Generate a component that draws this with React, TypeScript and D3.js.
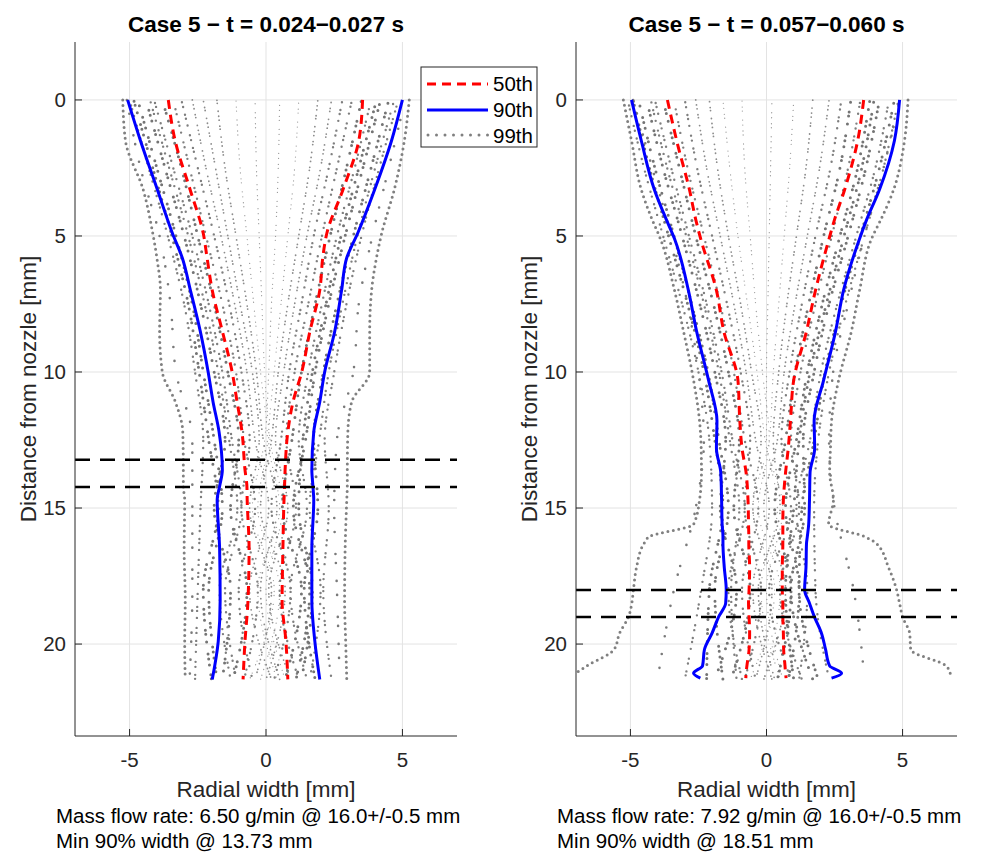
import React from "react";
import * as d3 from "d3";

const W = 989;
const H = 853;

const xTicks = [-5, 0, 5];
const yTicks = [0, 5, 10, 15, 20];
const xDomain: [number, number] = [-7, 7];
const yDomain: [number, number] = [-2.13, 23.38];

const titles = ["Case 5 \u2212 t = 0.024\u22120.027 s", "Case 5 \u2212 t = 0.057\u22120.060 s"];
const notes1 = ["Mass flow rate: 6.50 g/min @ 16.0+/-0.5 mm", "Mass flow rate: 7.92 g/min @ 16.0+/-0.5 mm"];
const notes2 = ["Min 90% width @ 13.73 mm", "Min 90% width @ 18.51 mm"];
const legendLabels = ["50th", "90th", "99th"];

// minimum-width band (center +/- 0.5 mm)
const bandLeft = [13.23, 14.23];
const bandRight = [18.01, 19.01];

// percentile envelopes, left panel
const depthL = [0, 1.5, 3.3, 4.9, 5.8, 7, 8.5, 10, 11.1, 12.2, 13.6, 14.2, 14.7, 16.5, 18.4, 19.9, 21.3];
const p50LeftA = [-3.58, -3.33, -2.78, -2.3, -2.16, -1.97, -1.6, -1.24, -1.06, -0.88, -0.77, -0.7, -0.69, -0.62, -0.66, -0.77, -0.84];
const p50LeftB = [3.54, 3.4, 2.82, 2.23, 2.08, 1.97, 1.61, 1.31, 0.99, 0.8, 0.7, 0.68, 0.66, 0.62, 0.59, 0.73, 0.8];
const p90LeftA = [-5.07, -4.6, -3.98, -3.43, -3.07, -2.77, -2.41, -2.12, -1.94, -1.72, -1.6, -1.7, -1.79, -1.7, -1.68, -1.75, -1.97];
const p90LeftB = [5.0, 4.6, 3.98, 3.36, 2.96, 2.77, 2.52, 2.15, 1.97, 1.75, 1.68, 1.72, 1.75, 1.68, 1.68, 1.79, 1.97];
const p99LeftA = [-5.25, -5.15, -4.5, -4.15, -4.0, -3.87, -3.9, -3.8, -3.32, -3.05, -3.03, -3.03, -2.98, -3.0, -2.96, -2.98, -2.96];
const p99LeftB = [5.25, 5.07, 4.7, 4.24, 4.05, 3.87, 3.8, 3.8, 3.14, 3.0, 2.98, 2.98, 2.96, 2.9, 2.88, 2.92, 2.96];

// percentile envelopes, right panel
const depthR = [0, 1.5, 3.3, 4.4, 5.1, 7, 8.5, 10.3, 11.8, 12.8, 13.7, 14.7, 15.6, 16.05, 16.3, 17.2, 18, 18.5, 19, 19.6, 20.2, 20.8, 21.07, 21.25];
const p50RightA = [-3.64, -3.3, -2.83, -2.6, -2.42, -1.84, -1.57, -1.05, -0.98, -0.9, -0.75, -0.68, -0.66, -0.65, -0.65, -0.62, -0.64, -0.66, -0.64, -0.62, -0.64, -0.72, -0.75, -0.76];
const p50RightB = [3.57, 3.35, 2.87, 2.5, 2.3, 1.8, 1.47, 1.0, 0.88, 0.8, 0.7, 0.62, 0.6, 0.6, 0.6, 0.58, 0.58, 0.6, 0.6, 0.62, 0.63, 0.68, 0.7, 0.72];
const p90RightA = [-4.96, -4.6, -4.12, -3.68, -3.38, -2.87, -2.57, -2.13, -1.82, -1.84, -1.68, -1.65, -1.63, -1.6, -1.6, -1.55, -1.48, -1.5, -1.76, -2.0, -2.28, -2.35, -2.68, -2.43];
const p90RightB = [4.89, 4.7, 4.15, 3.68, 3.42, 2.83, 2.54, 2.1, 1.75, 1.77, 1.6, 1.58, 1.55, 1.5, 1.47, 1.45, 1.4, 1.58, 1.76, 2.02, 2.17, 2.32, 2.76, 2.39];
const p99RightA = [-5.26, -4.96, -4.6, -4.2, -3.9, -3.38, -3.05, -2.68, -2.46, -2.4, -2.39, -2.46, -2.68, -4.3, -4.5, -4.78, -4.89, -4.95, -5.07, -5.4, -5.6, -6.6, -7.0, -7.2];
const p99RightB = [5.2, 5.07, 4.67, 4.2, 3.86, 3.42, 3.12, 2.65, 2.39, 2.35, 2.32, 2.46, 2.28, 3.6, 4.04, 4.49, 4.78, 4.89, 5.0, 5.26, 5.3, 6.6, 6.75, 6.8];

// particle streaks: x position at each streak depth
const streakDepth = [0, 2.5, 5, 7.5, 10, 12.5, 15, 18, 21.3];
const streaksLeft = [
  [-5.1, -4.6, -3.9, -3.5, -3.3, -2.7, -2.7, -2.7, -2.8],
  [-5.0, -4.3, -3.6, -3.0, -2.6, -2.3, -2.4, -2.5, -2.6],
  [-4.85, -4.15, -3.45, -2.85, -2.45, -2.1, -1.75, -2.3, -2.0],
  [-4.7, -4.0, -3.3, -2.7, -2.3, -1.9, -1.6, -2.1, -1.8],
  [-4.4, -3.7, -3.0, -2.4, -1.9, -1.5, -1.9, -1.3, -1.6],
  [-4.25, -3.55, -2.85, -2.25, -1.75, -1.35, -1.05, -1.7, -1.3],
  [-4.1, -3.4, -2.7, -2.1, -1.6, -1.25, -0.9, -1.5, -1.1],
  [-3.8, -3.1, -2.5, -1.9, -1.4, -1.0, -1.3, -0.7, -1.2],
  [-3.4, -2.8, -2.2, -1.6, -1.1, -0.8, -0.4, -1.0, -0.5],
  [-3.1, -2.5, -1.9, -1.35, -0.9, -0.6, -0.9, -0.3, -0.8],
  [-2.7, -2.2, -1.65, -1.15, -0.7, -0.4, 0.1, -0.6, 0.2],
  [-2.3, -1.85, -1.4, -0.95, -0.5, -0.25, -0.6, 0.2, -0.4],
  [-1.8, -1.5, -1.1, -0.7, -0.35, -0.1, 0.4, -0.2, 0.5],
  [-1.1, -0.95, -0.7, -0.45, -0.2, 0.05, -0.3, 0.5, -0.2],
  [-0.4, -0.35, -0.25, -0.15, -0.05, 0.15, 0.6, 0.0, 0.7],
  [0.5, 0.45, 0.35, 0.2, 0.1, -0.05, -0.5, 0.3, -0.6],
  [1.2, 1.05, 0.8, 0.55, 0.3, 0.1, 0.5, -0.3, 0.4],
  [1.9, 1.6, 1.2, 0.8, 0.45, 0.2, -0.2, 0.7, 0.0],
  [2.4, 2.0, 1.5, 1.05, 0.65, 0.35, 0.8, 0.1, 0.9],
  [2.8, 2.3, 1.75, 1.3, 0.85, 0.55, 0.2, 0.9, 0.3],
  [3.15, 2.6, 2.05, 1.55, 1.05, 0.75, 1.1, 0.5, 1.2],
  [3.5, 2.95, 2.35, 1.8, 1.3, 0.95, 0.6, 1.3, 0.7],
  [3.85, 3.25, 2.6, 2.05, 1.55, 1.2, 1.5, 0.9, 1.5],
  [4.05, 3.4, 2.75, 2.2, 1.7, 1.35, 1.2, 1.7, 1.3],
  [4.2, 3.55, 2.9, 2.3, 1.8, 1.45, 1.0, 1.6, 1.1],
  [4.5, 3.85, 3.2, 2.6, 2.1, 1.75, 1.9, 1.4, 1.8],
  [4.7, 4.0, 3.35, 2.8, 2.3, 1.95, 1.6, 2.0, 1.6],
  [4.85, 4.15, 3.5, 2.95, 2.5, 2.15, 2.3, 2.1, 2.4],
  [5.1, 4.5, 3.9, 3.4, 3.2, 2.6, 2.5, 2.6, 2.7],
];
const streakKindsLeft = ["sparse", "med", "big", "big", "big", "med", "med", "big", "med", "med", "small", "small", "small", "tiny", "tiny",
  "tiny", "tiny", "small", "small", "med", "med", "big", "med", "big", "big", "big", "med", "med", "sparse"];

const streaksRight = [
  [-4.9, -4.2, -3.5, -2.9, -2.5, -2.3, -2.6, -3.4, -4.0],
  [-5.1, -4.5, -3.8, -3.1, -2.5, -2.1, -2.0, -2.4, -3.0],
  [-4.9, -4.3, -3.6, -2.9, -2.3, -1.9, -1.6, -2.1, -2.2],
  [-4.7, -4.1, -3.4, -2.75, -2.15, -1.75, -1.4, -1.9, -1.6],
  [-4.4, -3.8, -3.1, -2.45, -1.9, -1.5, -1.7, -1.1, -1.9],
  [-4.25, -3.65, -2.95, -2.3, -1.75, -1.35, -1.0, -1.3, -1.1],
  [-4.1, -3.5, -2.85, -2.2, -1.65, -1.25, -0.8, -1.4, -0.9],
  [-3.8, -3.2, -2.6, -1.95, -1.4, -1.0, -1.2, -0.6, -1.3],
  [-3.4, -2.9, -2.3, -1.7, -1.2, -0.8, -0.3, -0.9, -0.4],
  [-3.0, -2.55, -2.0, -1.45, -0.95, -0.6, -0.8, -0.2, -0.8],
  [-2.6, -2.2, -1.7, -1.2, -0.75, -0.4, 0.1, -0.5, 0.2],
  [-2.1, -1.8, -1.4, -0.95, -0.55, -0.2, -0.5, 0.2, -0.4],
  [-1.6, -1.35, -1.05, -0.7, -0.35, -0.05, 0.4, -0.2, 0.5],
  [-0.9, -0.8, -0.6, -0.4, -0.15, 0.1, -0.3, 0.5, -0.1],
  [0.2, 0.15, 0.1, 0.05, 0.0, 0.0, 0.6, 0.0, 0.6],
  [1.0, 0.85, 0.65, 0.45, 0.25, 0.1, -0.5, 0.3, -0.6],
  [1.7, 1.45, 1.1, 0.75, 0.45, 0.25, 0.5, -0.3, 0.3],
  [2.3, 1.95, 1.5, 1.05, 0.65, 0.4, -0.1, 0.7, -0.1],
  [2.75, 2.35, 1.8, 1.3, 0.85, 0.55, 0.9, 0.1, 0.9],
  [3.1, 2.7, 2.1, 1.55, 1.05, 0.7, 0.3, 0.9, 0.4],
  [3.45, 3.0, 2.4, 1.8, 1.25, 0.9, 1.2, 0.5, 1.3],
  [3.8, 3.35, 2.7, 2.05, 1.5, 1.1, 0.7, 1.2, 0.8],
  [3.95, 3.5, 2.85, 2.2, 1.6, 1.2, 1.0, 0.7, 1.0],
  [4.15, 3.65, 3.0, 2.3, 1.75, 1.35, 1.4, 0.9, 1.7],
  [4.5, 4.0, 3.3, 2.6, 2.0, 1.6, 1.1, 1.5, 1.2],
  [4.7, 4.15, 3.45, 2.75, 2.15, 1.75, 1.3, 1.2, 1.9],
  [4.85, 4.3, 3.6, 2.9, 2.3, 1.9, 1.75, 1.8, 2.3],
  [4.9, 4.3, 3.6, 3.0, 2.45, 2.3, 2.5, 3.2, 3.6],
];
const streakKindsRight = ["sparse", "med", "big", "big", "big", "med", "med", "big", "med", "med", "small", "small", "tiny", "tiny",
  "tiny", "tiny", "small", "small", "med", "big", "med", "big", "big", "big", "med", "big", "med", "sparse"];

// irregular dot spacing so the streaks read as scattered particles
const dotStyle: Record<string, { w: number; dash: string; color: string }> = {
  big: { w: 3, dash: "0 6 0 10 0 4 0 8 0 12 0 5", color: "#747474" },
  med: { w: 2.4, dash: "0 5 0 8 0 4 0 7 0 10", color: "#7f7f7f" },
  small: { w: 1.8, dash: "0 4 0 6 0 3 0 8 0 5", color: "#8c8c8c" },
  tiny: { w: 1.3, dash: "0 6 0 4 0 9 0 5", color: "#9c9c9c" },
  sparse: { w: 2.6, dash: "0 14 0 22 0 9 0 18", color: "#7a7a7a" },
};

const font = "'Liberation Sans', Arial, Helvetica, sans-serif";
const axisColor = "#262626";

type PanelProps = {
  idx: number;
  x0: number;
  x1: number;
  depth: number[];
  p50: number[][];
  p90: number[][];
  p99: number[][];
  streaks: number[][];
  kinds: string[];
  band: number[];
  legend: boolean;
};

const y0 = 42;
const y1 = 736;

function Panel(props: PanelProps) {
  const { idx, x0, x1, depth, p50, p90, p99, streaks, kinds, band, legend } = props;
  const x = d3.scaleLinear().domain(xDomain).range([x0, x1]);
  const y = d3.scaleLinear().domain(yDomain).range([y0, y1]);
  const cx = (x0 + x1) / 2;
  const clipId = `clip-${idx}`;

  const profile = d3
    .line<number>()
    .x((v) => x(v))
    .y((_, i) => y(depth[i]))
    .curve(d3.curveMonotoneY);
  const streakLine = d3
    .line<number>()
    .x((v) => x(v))
    .y((_, i) => y(streakDepth[i]))
    .curve(d3.curveMonotoneY);

  return (
    <g>
      <defs>
        <clipPath id={clipId}>
          <rect x={x0} y={y0} width={x1 - x0} height={y1 - y0} />
        </clipPath>
      </defs>
      {xTicks.map((t) => (
        <line key={"gx" + t} x1={x(t)} x2={x(t)} y1={y0} y2={y1} stroke="#e3e3e3" strokeWidth={1} />
      ))}
      {yTicks.map((t) => (
        <line key={"gy" + t} x1={x0} x2={x1} y1={y(t)} y2={y(t)} stroke="#e3e3e3" strokeWidth={1} />
      ))}
      <g clipPath={`url(#${clipId})`}>
        {streaks.map((s, i) => {
          const st = dotStyle[kinds[i]];
          return (
            <path
              key={"s" + i}
              d={streakLine(s) || ""}
              fill="none"
              stroke={st.color}
              strokeWidth={st.w}
              strokeLinecap="round"
              strokeDasharray={st.dash}
              strokeDashoffset={i * 7.3}
            />
          );
        })}
        {p99.map((s, i) => (
          <path key={"p99" + i} d={profile(s) || ""} fill="none" stroke="#808080" strokeWidth={3}
            strokeLinecap="round" strokeDasharray="0 5.5" />
        ))}
        {p90.map((s, i) => (
          <path key={"p90" + i} d={profile(s) || ""} fill="none" stroke="#0000ff" strokeWidth={3} />
        ))}
        {p50.map((s, i) => (
          <path key={"p50" + i} d={profile(s) || ""} fill="none" stroke="#ff0000" strokeWidth={3}
            strokeDasharray="9 6" />
        ))}
        {band.map((b) => (
          <line key={"b" + b} x1={x0} x2={x1} y1={y(b)} y2={y(b)} stroke="#000" strokeWidth={2.5}
            strokeDasharray="15 10" />
        ))}
      </g>
      {/* axes */}
      <line x1={x0} x2={x0} y1={y0} y2={y1} stroke={axisColor} strokeWidth={1} />
      <line x1={x0} x2={x1} y1={y1} y2={y1} stroke={axisColor} strokeWidth={1} />
      {yTicks.map((t) => (
        <g key={"ty" + t}>
          <line x1={x0} x2={x0 + 7} y1={y(t)} y2={y(t)} stroke={axisColor} />
          <text x={x0 - 9} y={y(t) + 7} textAnchor="end" fontSize={20.5} fontFamily={font} fill={axisColor}>
            {t}
          </text>
        </g>
      ))}
      {xTicks.map((t) => (
        <g key={"tx" + t}>
          <line x1={x(t)} x2={x(t)} y1={y1} y2={y1 - 7} stroke={axisColor} />
          <text x={x(t)} y={y1 + 31} textAnchor="middle" fontSize={20.5} fontFamily={font} fill={axisColor}>
            {t === -5 ? "-5" : t}
          </text>
        </g>
      ))}
      <text x={cx} y={32} textAnchor="middle" fontSize={22.5} fontWeight="bold" fontFamily={font} fill="#000">
        {titles[idx]}
      </text>
      <text x={cx} y={797} textAnchor="middle" fontSize={22.5} fontFamily={font} fill={axisColor}>
        Radial width [mm]
      </text>
      <text
        transform={`translate(${x0 - 39},${(y0 + y1) / 2}) rotate(-90)`}
        textAnchor="middle"
        fontSize={22.5}
        fontFamily={font}
        fill={axisColor}
      >
        Distance from nozzle [mm]
      </text>
      <text x={x0 - 19} y={823} fontSize={20.5} fontFamily={font} fill="#000">
        {notes1[idx]}
      </text>
      <text x={x0 - 19} y={848} fontSize={20.5} fontFamily={font} fill="#000">
        {notes2[idx]}
      </text>
      {legend && (
        <g>
          <rect x={421} y={67} width={116} height={80} fill="#fff" stroke={axisColor} strokeWidth={1} />
          <line x1={427} x2={488} y1={84} y2={84} stroke="#ff0000" strokeWidth={3} strokeDasharray="9 6" />
          <line x1={427} x2={488} y1={110} y2={110} stroke="#0000ff" strokeWidth={3} />
          <line x1={428} x2={488} y1={135} y2={135} stroke="#808080" strokeWidth={3} strokeLinecap="round"
            strokeDasharray="0 8.5" />
          {legendLabels.map((l, i) => (
            <text key={l} x={493} y={91 + i * 26} fontSize={20.5} fontFamily={font} fill="#000">
              {l}
            </text>
          ))}
        </g>
      )}
    </g>
  );
}

export default function App() {
  return (
    <svg width={W} height={H} style={{ position: "absolute", left: 0, top: 0, background: "#fff" }}>
      <rect width={W} height={H} fill="#fff" />
      <Panel
        idx={0}
        x0={75}
        x1={457}
        depth={depthL}
        p50={[p50LeftA, p50LeftB]}
        p90={[p90LeftA, p90LeftB]}
        p99={[p99LeftA, p99LeftB]}
        streaks={streaksLeft}
        kinds={streakKindsLeft}
        band={bandLeft}
        legend={true}
      />
      <Panel
        idx={1}
        x0={576}
        x1={957}
        depth={depthR}
        p50={[p50RightA, p50RightB]}
        p90={[p90RightA, p90RightB]}
        p99={[p99RightA, p99RightB]}
        streaks={streaksRight}
        kinds={streakKindsRight}
        band={bandRight}
        legend={false}
      />
    </svg>
  );
}
